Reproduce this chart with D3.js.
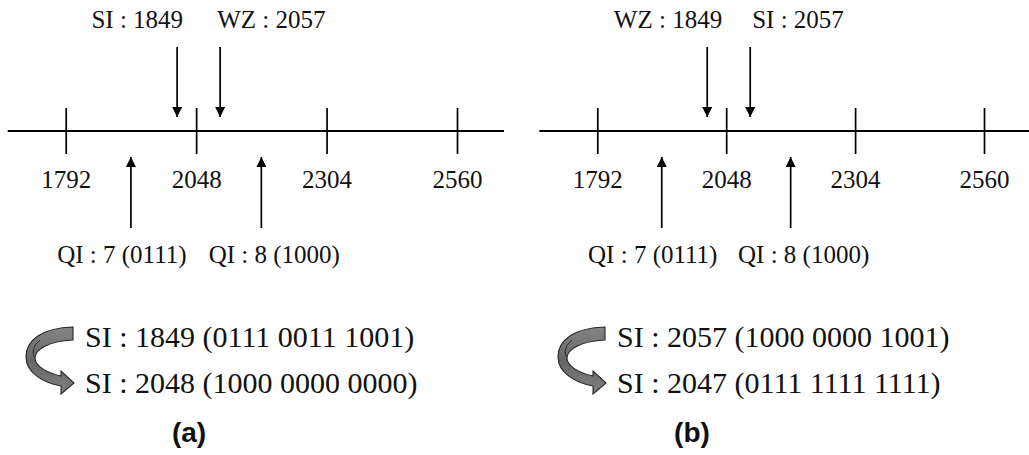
<!DOCTYPE html>
<html>
<head>
<meta charset="utf-8">
<script src="https://cdn.jsdelivr.net/npm/d3@7"></script>
<style>
  html, body { margin: 0; padding: 0; background: #fff; }
  svg { display: block; }
</style>
</head>
<body>
<svg id="fig" width="1029" height="455"></svg>
<script>
// Side-information / Wyner-Ziv quantisation boundary illustration.
const tickValues = [1792, 2048, 2304, 2560];
const boundary = 2048;
const panelTags = ["(a)", "(b)"];
// Labels of the two values that fall next to the 2048 boundary, per panel
const markerNamesA = ["SI", "WZ"];
const markerNamesB = ["WZ", "SI"];
const markerValues = [1849, 2057];
// Quantisation indices and the centres of their cells
const qiIndices = [7, 8];
const qiCentres = [1920, 2176];
// Side-information value before and after correction, per panel
const siBefore = [1849, 2057];
const siAfter = [2048, 2047];

const svg = d3.select("#fig");
const serif = "'Liberation Serif', 'Times New Roman', serif";
const sans = "'Liberation Sans', Arial, sans-serif";

const layout = [
  { range: [65.7, 457], dx: 0, topDx: [6, -3], tagX: 189 },
  { range: [597.3, 984], dx: 532, topDx: [15, 2], tagX: 692 }
];

const axisY = 131;
const bits = (v, n) => v.toString(2).padStart(n, "0");
const groups = v => bits(v, 12).match(/.{4}/g).join(" ");

// arrow head marker
const defs = svg.append("defs");
defs.append("marker")
  .attr("id", "head")
  .attr("viewBox", "0 0 10 10")
  .attr("refX", 10).attr("refY", 5)
  .attr("markerWidth", 10).attr("markerHeight", 10)
  .attr("markerUnits", "userSpaceOnUse")
  .attr("orient", "auto")
  .append("path").attr("d", "M0,0 L10,5 L0,10 Z").attr("fill", "#000");

const grad = defs.append("linearGradient").attr("id", "bend")
  .attr("x1", 0).attr("y1", 0).attr("x2", 0).attr("y2", 1);
grad.append("stop").attr("offset", "0").attr("stop-color", "#858585");
grad.append("stop").attr("offset", "0.5").attr("stop-color", "#666");
grad.append("stop").attr("offset", "1").attr("stop-color", "#808080");

[markerNamesA, markerNamesB].forEach((names, p) => {
  const L = layout[p];
  const x = d3.scaleLinear().domain([1792, 2560]).range(L.range);
  const g = svg.append("g");

  // number line
  g.append("line")
    .attr("x1", x(1792) - 58).attr("x2", x(2560) + 47)
    .attr("y1", axisY).attr("y2", axisY)
    .attr("stroke", "#000").attr("stroke-width", 2.2);

  // tick marks crossing the line, with labels below
  const axis = d3.axisBottom(x).tickValues(tickValues)
    .tickSize(46).tickPadding(16.5).tickFormat(d3.format("d"));
  const ax = g.append("g").attr("transform", `translate(0,${axisY - 23})`).call(axis);
  ax.select(".domain").remove();
  ax.selectAll(".tick line").attr("stroke", "#000").attr("stroke-width", 1.7);
  ax.selectAll(".tick text")
    .attr("fill", "#111")
    .style("font-family", serif).style("font-size", "25px");

  // values just either side of the boundary: downward arrows from above
  markerValues.forEach((v, i) => {
    const side = v < boundary ? -1 : 1;
    const ax0 = x(boundary) + (side < 0 ? -19 : 24);
    g.append("line")
      .attr("x1", ax0).attr("x2", ax0)
      .attr("y1", 47).attr("y2", 117)
      .attr("stroke", "#000").attr("stroke-width", 1.7)
      .attr("marker-end", "url(#head)");
    g.append("text")
      .attr("x", ax0 + L.topDx[i]).attr("y", 28)
      .attr("text-anchor", side < 0 ? "end" : "start")
      .style("font-family", serif).style("font-size", "25px").attr("fill", "#111")
      .text(`${names[i]} : ${v}`);
  });

  // quantisation cell centres: upward arrows from below
  qiCentres.forEach((c, i) => {
    const cx = x(c);
    g.append("line")
      .attr("x1", cx).attr("x2", cx)
      .attr("y1", 228).attr("y2", 157)
      .attr("stroke", "#000").attr("stroke-width", 1.7)
      .attr("marker-end", "url(#head)");
    g.append("text")
      .attr("x", cx + (i === 0 ? -9 : 13)).attr("y", 263)
      .attr("text-anchor", "middle")
      .style("font-family", serif).style("font-size", "25px").attr("fill", "#111")
      .text(`QI : ${qiIndices[i]} (${bits(qiIndices[i], 4)})`);
  });

  // correction of the side information
  const b = g.append("g").attr("transform", `translate(${L.dx},0)`);
  b.append("path")
    .attr("d", "M73,327 C42,328 26,340 26,357 C26,373 44,383 61,386 L61,394 L74,383 L61,371 L61,376 C47,373 35,366 35,358 C35,349 50,341 73,340 Z")
    .attr("fill", "url(#bend)").attr("stroke", "#262626").attr("stroke-width", 1.1);
  b.append("path")
    .attr("d", "M35,358 C31,352 34,345 40,340")
    .attr("fill", "none").attr("stroke", "#262626").attr("stroke-width", 0.9);

  [siBefore[p], siAfter[p]].forEach((v, k) => {
    b.append("text")
      .attr("x", 85).attr("y", 347 + k * 46)
      .style("font-family", serif).style("font-size", "30px").attr("fill", "#111")
      .text(`SI : ${v} (${groups(v)})`);
  });

  svg.append("text")
    .attr("x", L.tagX).attr("y", 442)
    .attr("text-anchor", "middle")
    .style("font-family", sans).style("font-size", "28px").style("font-weight", "bold")
    .attr("fill", "#111")
    .text(panelTags[p]);
});
</script>
</body>
</html>
